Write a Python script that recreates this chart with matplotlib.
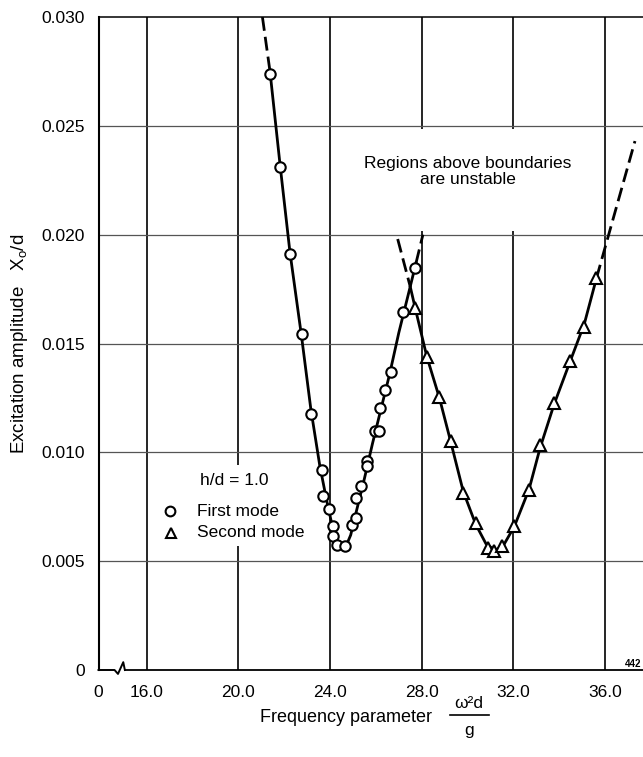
import numpy as np
import matplotlib
matplotlib.use("Agg")
import matplotlib.pyplot as plt
from matplotlib.patches import Rectangle
from matplotlib.lines import Line2D

plt.rcParams['font.family'] = ['Liberation Sans', 'DejaVu Sans']
plt.rcParams['mathtext.default'] = 'regular'

# --- data (x = frequency parameter, y = X0/d) ---
first_x = [21.38, 21.82, 22.25, 22.76, 23.16, 23.64, 23.68, 23.95, 24.14, 24.14,
           24.29, 24.65, 24.95, 25.13, 25.15, 25.36, 25.61, 25.61, 25.95, 26.15,
           26.17, 26.39, 26.66, 27.17, 27.71]
first_y = [0.02736, 0.02313, 0.01911, 0.01542, 0.01177, 0.00918, 0.00798, 0.00741, 0.00660, 0.00617,
           0.00572, 0.00568, 0.00664, 0.00698, 0.00792, 0.00845, 0.00960, 0.00935, 0.01098, 0.01098,
           0.01202, 0.01285, 0.01371, 0.01647, 0.01845]

second_x = [27.72, 28.22, 28.77, 29.26, 29.81, 30.35, 30.88, 31.15, 31.49, 32.04,
            32.68, 33.16, 33.77, 34.48, 35.09, 35.62]
second_y = [0.01665, 0.01440, 0.01256, 0.01051, 0.00813, 0.00675, 0.00560, 0.00545, 0.00568, 0.00660,
            0.00829, 0.01033, 0.01225, 0.01418, 0.01575, 0.01799]

# faired boundary curves
b1_x = [21.38, 21.82, 22.25, 22.76, 23.16, 23.55, 23.85, 24.10, 24.30, 24.50, 24.70, 24.90,
        25.15, 25.50, 25.85, 26.20, 26.60, 27.00, 27.40, 27.75]
b1_y = [0.0275, 0.0232, 0.0192, 0.0153, 0.0120, 0.0094, 0.0078, 0.0066, 0.0059, 0.0056, 0.0057, 0.0062,
        0.0073, 0.0088, 0.0104, 0.0119, 0.0136, 0.0155, 0.0172, 0.0187]
b1_dash_lo_x = [21.05, 21.38]
b1_dash_lo_y = [0.0300, 0.0275]
b1_dash_hi_x = [27.75, 28.05]
b1_dash_hi_y = [0.0187, 0.0200]

b2_x = [27.50, 27.72, 28.22, 28.77, 29.26, 29.81, 30.35, 30.80, 31.20, 31.55, 32.04, 32.68,
        33.16, 33.77, 34.48, 35.09, 35.62]
b2_y = [0.0176, 0.0166, 0.0144, 0.0125, 0.0105, 0.0082, 0.0067, 0.0058, 0.0055, 0.0057, 0.0066, 0.0083,
        0.0102, 0.0122, 0.0142, 0.0159, 0.0180]
b2_dash_lo_x = [26.95, 27.50]
b2_dash_lo_y = [0.0198, 0.0176]
b2_dash_hi_x = [35.62, 37.30]
b2_dash_hi_y = [0.0180, 0.0243]

xticks = [13.9, 16, 20, 24, 28, 32, 36]
xticklabels = ['0', '16.0', '20.0', '24.0', '28.0', '32.0', '36.0']
yticks = [0, 0.005, 0.010, 0.015, 0.020, 0.025, 0.030]
yticklabels = ['0', '0.005', '0.010', '0.015', '0.020', '0.025', '0.030']

W, H = 643, 757
fig = plt.figure(figsize=(W / 100, H / 100), dpi=100)
ax = fig.add_axes([98.5 / W, (H - 670) / H, (W - 98.5) / W, (670 - 17) / H])
ax.set_xlim(13.9, 37.65)
ax.set_ylim(0, 0.030)

# grid
for gx in xticks[1:]:
    ax.axvline(gx, color='black', lw=1.2, zorder=1)
for gy in yticks[1:-1]:
    ax.axhline(gy, color='#555555', lw=0.9, zorder=1)

# white areas behind the notes
ax.add_patch(Rectangle((24.08, 0.02015), 11.84, 0.0047, facecolor='white', edgecolor='none', zorder=2))
ax.add_patch(Rectangle((16.1, 0.0057), 7.3, 0.0037, facecolor='white', edgecolor='none', zorder=2))

# boundaries
ax.plot(b1_x, b1_y, color='black', lw=2.0, zorder=3)
ax.plot(b2_x, b2_y, color='black', lw=2.0, zorder=3)
for dx, dy in [(b1_dash_lo_x, b1_dash_lo_y), (b1_dash_hi_x, b1_dash_hi_y),
               (b2_dash_lo_x, b2_dash_lo_y), (b2_dash_hi_x, b2_dash_hi_y)]:
    ax.plot(dx, dy, color='black', lw=2.0, ls=(0, (5, 2.2)), zorder=3)

ax.plot(first_x, first_y, ls='none', marker='o', ms=7.5, mfc='white', mec='black', mew=1.5, zorder=4)
ax.plot(second_x, second_y, ls='none', marker='^', ms=8.5, mfc='white', mec='black', mew=1.5, zorder=4)

# spines / axis break
ax.spines['right'].set_visible(False)
ax.spines['left'].set_linewidth(1.5)
ax.spines['top'].set_linewidth(1.1)
ax.spines['bottom'].set_linewidth(1.3)
ax.spines['bottom'].set_bounds(15.05, 37.65)
ax.plot([13.9, 14.6, 14.75, 14.98, 15.05], [0, 0, -0.00018, 0.00036, 0],
        color='black', lw=1.4, clip_on=False, zorder=5)

ax.set_xticks(xticks)
ax.set_xticklabels(xticklabels)
ax.set_yticks(yticks)
ax.set_yticklabels(yticklabels)
ax.tick_params(length=0, labelsize=12.5)
ax.tick_params(axis='x', pad=11)
ax.tick_params(axis='y', pad=10)

ax.set_ylabel('Excitation amplitude   X$_o$/d', fontsize=13.5)
ax.yaxis.set_label_coords(-0.125, 0.5)

# notes
ax.text(30.0, 0.0229, 'Regions above boundaries\nare unstable', ha='center', va='center',
        fontsize=12.5, linespacing=1.1, zorder=5)
ax.text(19.8, 0.0087, 'h/d = 1.0', ha='center', va='center', fontsize=12.5, zorder=5)
ax.plot([17.0], [0.0073], ls='none', marker='o', ms=7, mfc='white', mec='black', mew=1.5, zorder=5)
ax.plot([17.05], [0.0063], ls='none', marker='^', ms=7.5, mfc='white', mec='black', mew=1.5, zorder=5)
ax.text(18.2, 0.0073, 'First mode', ha='left', va='center', fontsize=12.5, zorder=5)
ax.text(18.2, 0.0063, 'Second mode', ha='left', va='center', fontsize=12.5, zorder=5)

# x axis title with fraction
fig.text(346 / W, 1 - 717 / H, 'Frequency parameter', ha='center', va='center', fontsize=13)
fig.text(469 / W, 1 - 703 / H, 'ω²d', ha='center', va='center', fontsize=12.5)
fig.add_artist(Line2D([450 / W, 489 / W], [1 - 715 / H, 1 - 715 / H], color='black', lw=1.2))
fig.text(469 / W, 1 - 731 / H, 'g', ha='center', va='center', fontsize=12.5)

fig.text(641 / W, 1 - 664 / H, '442', ha='right', va='center', fontsize=7, fontweight='bold')

fig.savefig('out.png', dpi=100)
